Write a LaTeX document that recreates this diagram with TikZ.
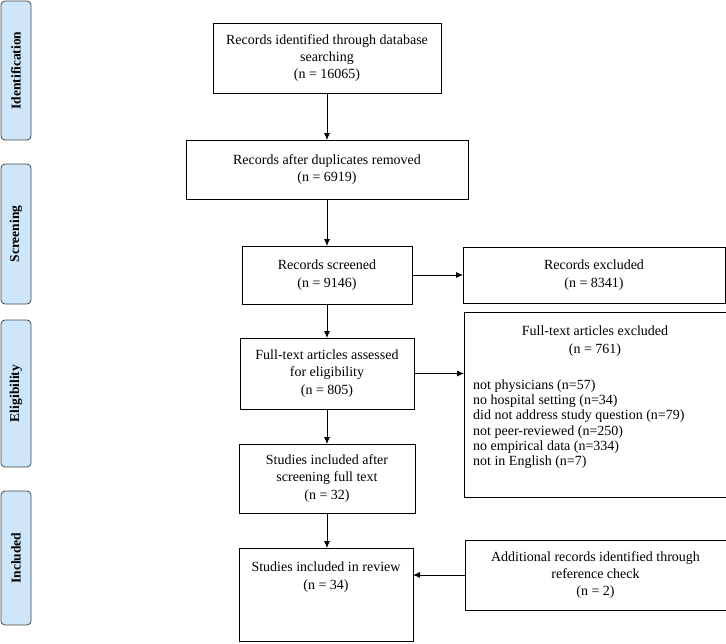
\documentclass[tikz,border=0pt]{standalone}
\usepackage{fontspec}
\setmainfont{Liberation Serif}
\usetikzlibrary{arrows.meta}
\definecolor{phasefill}{RGB}{205,230,250}
\definecolor{phaseline}{RGB}{70,70,70}
\tikzset{
  box/.style={draw=black, line width=0.8pt, inner sep=0pt, outer sep=0pt, align=center,
    font=\fontsize{14}{17.3}\selectfont},
  txt/.style={inner sep=0pt, align=center, font=\fontsize{14}{17.3}\selectfont},
  listtxt/.style={inner sep=0pt, align=left, font=\fontsize{14}{15.3}\selectfont},
  phase/.style={draw=phaseline, fill=phasefill, rounded corners=4pt, line width=0.8pt,
    inner sep=0pt, font=\fontsize{13.5}{16}\selectfont\bfseries},
  arr/.style={-{Latex[length=7pt,width=6pt]}, line width=0.8pt}
}
\begin{document}
\begin{tikzpicture}[x=1pt,y=-1pt]
\useasboundingbox (0,0) rectangle (726,643);
% phase labels
\node[phase, rotate=90, minimum width=139pt, minimum height=30pt] (p1) at (16,70.5) {Identification};
\node[phase, rotate=90, minimum width=140pt, minimum height=30pt] (p2) at (16,234) {Screening};
\node[phase, rotate=90, minimum width=147pt, minimum height=30pt] (p3) at (16,393.5) {Eligibility};
\node[phase, rotate=90, minimum width=134pt, minimum height=30pt] (p4) at (16,558) {Included};
% main column
\node[box, minimum width=228pt, minimum height=70pt] (b1) at (327,58)
  {Records identified through database\\searching\\(n = 16065)};
\node[box, minimum width=282pt, minimum height=59pt] (b2) at (327,169.5)
  {Records after duplicates removed\\(n = 6919)};
\node[box, minimum width=170pt, minimum height=58pt] (b3) at (327,275)
  {Records screened\\(n = 9146)};
\node[box, minimum width=174pt, minimum height=71pt] (b4) at (327,373.5)
  {Full-text articles assessed\\for eligibility\\(n = 805)};
\node[box, minimum width=176pt, minimum height=69pt] (b5) at (327,478.5)
  {Studies included after\\screening full text\\(n = 32)};
\node[box, minimum width=174pt, minimum height=93pt] (b6) at (326,594.5) {};
\node[txt] (t6) at (326,577) {Studies included in review\\(n = 34)};
% right column
\node[box, minimum width=262pt, minimum height=56pt] (r1) at (594,275)
  {Records excluded\\(n = 8341)};
\node[box, minimum width=262pt, minimum height=185pt] (r2) at (595,404.5) {};
\node[txt] (t2) at (595,341) {Full-text articles excluded\\(n = 761)};
\node[listtxt, anchor=west] (l2) at (473,424)
  {not physicians (n=57)\\no hospital setting (n=34)\\did not address study question (n=79)\\not peer-reviewed (n=250)\\no empirical data (n=334)\\not in English (n=7)};
\node[box, minimum width=261pt, minimum height=70pt] (r3) at (595.5,575)
  {Additional records identified through\\reference check\\(n = 2)};
% arrows
\draw[arr] (b1) -- (b2);
\draw[arr] (b2) -- (b3);
\draw[arr] (b3) -- (b4);
\draw[arr] (b4) -- (b5);
\draw[arr] (b5) -- (b5 |- b6.north);
\draw[arr] (b3) -- (r1);
\draw[arr] (b4.east) -- (b4.east -| r2.west);
\draw[arr] (r3.west) -- (r3.west -| b6.east);
\end{tikzpicture}
\end{document}
